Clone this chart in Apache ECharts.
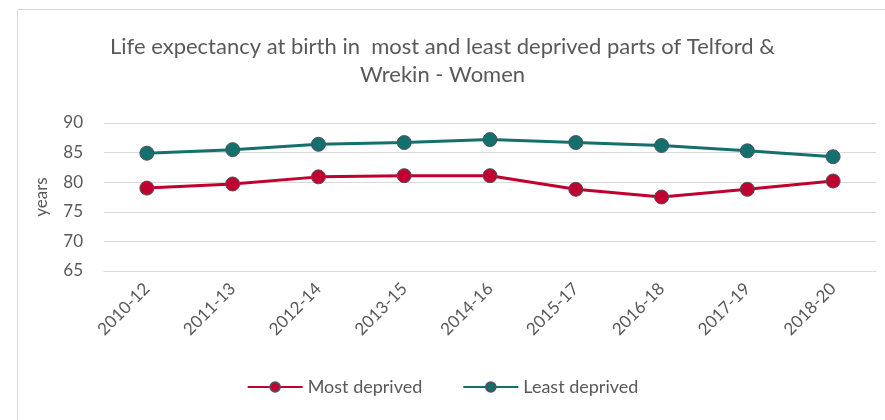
<!DOCTYPE html>
<html>
<head>
<meta charset="utf-8">
<script src="https://cdn.jsdelivr.net/npm/echarts@6/dist/echarts.min.js"></script>
<style>
  html, body { margin: 0; padding: 0; background: #fff; }
  #chart { width: 885px; height: 420px; }
</style>
</head>
<body>
<div id="chart"></div>
<script>
// periods on the x axis
const periods = ["2010-12", "2011-13", "2012-14", "2013-15", "2014-16", "2015-17", "2016-18", "2017-19", "2018-20"];
// life expectancy (years)
const mostDeprived = [79.0, 79.7, 80.9, 81.1, 81.1, 78.8, 77.5, 78.8, 80.2];
const leastDeprived = [84.9, 85.5, 86.4, 86.7, 87.2, 86.7, 86.2, 85.3, 84.3];

const titleText = "Life expectancy at birth in  most and least deprived parts of Telford &\nWrekin - Women";
const fontFam = "Lato, 'Open Sans', sans-serif";

const chart = echarts.init(document.getElementById("chart"));

function lineSeries(name, data, color) {
  return {
    name: name,
    type: "line",
    data: data,
    symbol: "circle",
    symbolSize: 14,
    lineStyle: { width: 3, color: color },
    itemStyle: { color: color, borderColor: "#4f4f5f", borderWidth: 1 },
    emphasis: { disabled: true },
  };
}

chart.setOption({
  backgroundColor: "#ffffff",
  animation: false,
  graphic: [
    {
      type: "rect",
      shape: { x: 17.5, y: 9.5, width: 900, height: 450 },
      style: { fill: "none", stroke: "#d9d9d9", lineWidth: 1 },
      silent: true,
    },
  ],
  title: {
    text: titleText,
    left: "center",
    top: 28,
    textStyle: {
      fontFamily: fontFam,
      fontSize: 22,
      fontWeight: "normal",
      color: "#595959",
      lineHeight: 28,
    },
  },
  legend: {
    top: 373,
    left: "center",
    itemWidth: 55,
    itemHeight: 12,
    itemGap: 40,
    textStyle: { fontFamily: fontFam, fontSize: 18, color: "#595959" },
    data: ["Most deprived", "Least deprived"],
  },
  grid: { left: 104, right: 9, top: 123, bottom: 149 },
  xAxis: {
    type: "category",
    data: periods,
    boundaryGap: true,
    axisLine: { lineStyle: { color: "#d9d9d9" } },
    axisTick: { show: false },
    axisLabel: {
      rotate: 45,
      interval: 0,
      margin: 15,
      fontFamily: fontFam,
      fontSize: 17,
      color: "#595959",
    },
  },
  yAxis: {
    type: "value",
    min: 65,
    max: 90,
    interval: 5,
    name: "years",
    nameLocation: "middle",
    nameGap: 54,
    nameTextStyle: { fontFamily: fontFam, fontSize: 17, color: "#595959" },
    axisLine: { show: false },
    axisTick: { show: false },
    axisLabel: { fontFamily: fontFam, fontSize: 17, color: "#595959", margin: 21 },
    splitLine: { lineStyle: { color: "#d9d9d9", width: 1 } },
  },
  series: [
    lineSeries("Most deprived", mostDeprived, "#c0002f"),
    lineSeries("Least deprived", leastDeprived, "#14706d"),
  ],
});
</script>
</body>
</html>
